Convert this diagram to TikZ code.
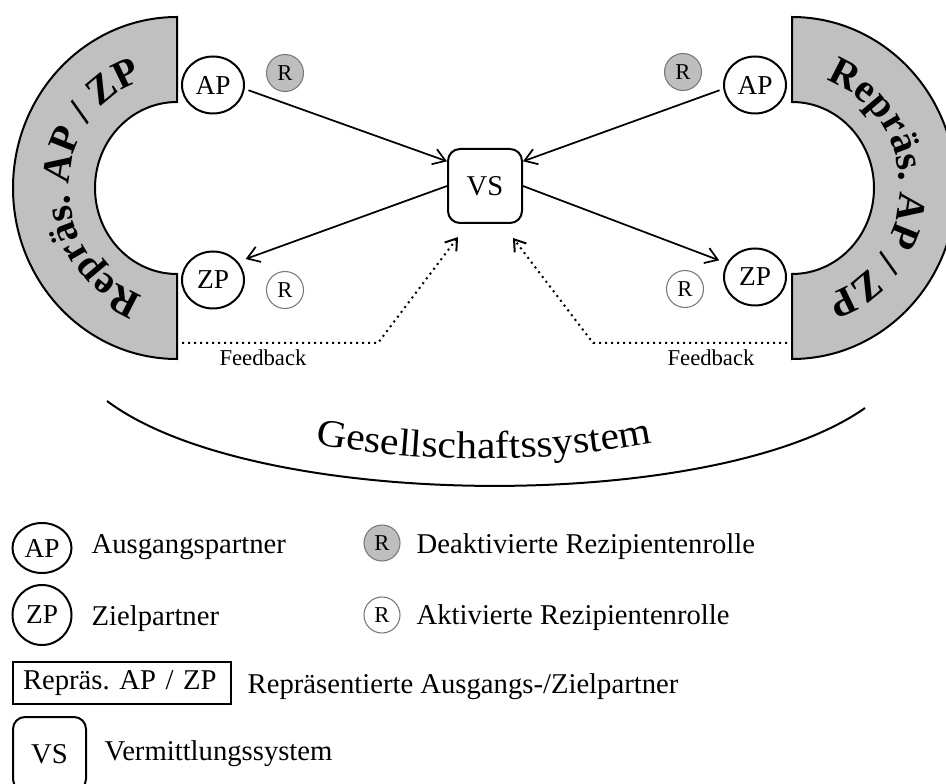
\documentclass[tikz,border=0pt]{standalone}
\usepackage{fontspec}
\setmainfont{Liberation Serif}
\newfontfamily\wideserif[FakeStretch=1.08]{Liberation Serif}
\usetikzlibrary{arrows.meta,shapes.geometric,decorations.text}
\definecolor{ringgray}{RGB}{192,192,192}
\definecolor{rolegray}{RGB}{190,190,190}
\definecolor{rimgray}{RGB}{120,120,120}
\frenchspacing

\begin{document}
\begin{tikzpicture}[x=0.75pt,y=0.75pt,
  partner/.style={ellipse,draw,line width=1.5pt,minimum width=46.5pt,minimum height=42.75pt,inner sep=0pt,font=\fontsize{20.5}{22}\selectfont},
  role/.style={circle,draw=rimgray,line width=0.8pt,minimum size=27.75pt,inner sep=0pt,font=\fontsize{17}{18}\selectfont},
  roleoff/.style={role,fill=rolegray},
  vsbox/.style={draw,line width=1.5pt,rounded corners=9pt,minimum size=55.5pt,inner sep=0pt,font=\fontsize{21.5}{24}\selectfont},
  flow/.style={line width=1.3pt,-{Straight Barb[length=9pt,width=12pt]}},
  feedback/.style={line width=1.5pt,dash pattern=on 1.5pt off 3pt,-{Straight Barb[length=8pt,width=11pt]}},
  fbtext/.style={anchor=base,font=\fontsize{17}{18}\selectfont},
  ring/.style={fill=ringgray,draw,line width=1.5pt},
  ringtext/.style={decorate,decoration={text along path,text align=center,
    text={|\bfseries\fontsize{30}{32}\selectfont|Repräs. AP / ZP}}},
  legend/.style={anchor=base west,font=\fontsize{21.5}{24}\selectfont}]
  \useasboundingbox (0,0) rectangle (946,783);
  \clip (0,0) rectangle (946,783);
  % the two half rings
  \draw[ring] (177,766) arc[start angle=90,end angle=270,x radius=164,y radius=171]
    -- (177,509) arc[start angle=270,end angle=90,x radius=82,y radius=86] -- cycle;
  \draw[ring] (792,766) arc[start angle=90,end angle=-90,x radius=164,y radius=171]
    -- (792,509) arc[start angle=-90,end angle=90,x radius=82,y radius=86] -- cycle;
  \path[ringtext] (177,482) arc[start angle=270,end angle=90,x radius=108,y radius=113];
  \path[ringtext] (792,708) arc[start angle=90,end angle=-90,x radius=108,y radius=113];
  % partners, roles, system
  \node[partner] (APl) at (213,698) {AP};
  \node[partner] (ZPl) at (213,503) {ZP};
  \node[roleoff] (Rl1) at (285,710) {R};
  \node[role] (Rl2) at (285,493) {R};
  \node[partner] (APr) at (755,698) {AP};
  \node[partner] (ZPr) at (755,506) {ZP};
  \node[roleoff] (Rr1) at (683,711) {R};
  \node[role] (Rr2) at (685,494) {R};
  \node[vsbox] (VS) at (485,597) {VS};
  \draw[flow,shorten <=3pt] (APl.-7) -- (VS.147);
  \draw[flow,shorten >=6pt] (VS.west) -- (ZPl.36);
  \draw[flow,shorten <=3pt] (APr.187) -- (VS.33);
  \draw[flow,shorten >=6pt] (VS.east) -- (ZPr.154);
  % feedback paths
  \coordinate (fbL) at (182,440);
  \coordinate (fbLtip) at (458,546);
  \coordinate (fbR) at (787,440);
  \coordinate (fbRtip) at (513,545);
  \draw[feedback] (fbL) -- (378,440) -- (fbLtip);
  \draw[feedback] (fbR) -- (593,440) -- (fbRtip);
  \node[fbtext] (fbLlabel) at (263,417) {Feedback};
  \node[fbtext] (fbRlabel) at (711,417) {Feedback};
  % society arc
  \draw[line width=1.5pt] (107,382) .. controls (255,271) and (715,269) .. (865,375);
  \path[decorate,decoration={text along path,text align=center,
    text={|\wideserif\fontsize{29}{30}\selectfont|Gesellschaftssystem}}]
    (284,345) .. controls (417,317) and (551,317) .. (684,347);
  % legend
  \node[partner,minimum width=44.25pt,minimum height=37.5pt] (lgAP) at (42,235) {AP};
  \node[legend] (lgAPtext) at (87,230) {Ausgangspartner};
  \node[partner,minimum width=44.25pt,minimum height=45pt] (lgZP) at (42,168) {ZP};
  \node[legend] (lgZPtext) at (87,158) {Zielpartner};
  \node[roleoff,minimum size=27pt] (lgRoff) at (382,240) {R};
  \node[legend] (lgRofftext) at (412,230) {Deaktivierte Rezipientenrolle};
  \node[role,minimum size=27pt] (lgRon) at (382,168) {R};
  \node[legend] (lgRontext) at (412,159) {Aktivierte Rezipientenrolle};
  \node[draw,line width=1.5pt,inner xsep=7.5pt,text width=148.5pt,align=left,minimum height=31.5pt,
    font=\fontsize{21.5}{24}\selectfont] (lgRep) at (122,100) {Repräs. AP / ZP};
  \node[legend] (lgReptext) at (243,90) {Repräsentierte Ausgangs-/Zielpartner};
  \node[vsbox,minimum width=54.75pt] (lgVS) at (49.5,29) {VS};
  \node[legend] (lgVStext) at (100,23) {Vermittlungssystem};
\end{tikzpicture}
\end{document}
